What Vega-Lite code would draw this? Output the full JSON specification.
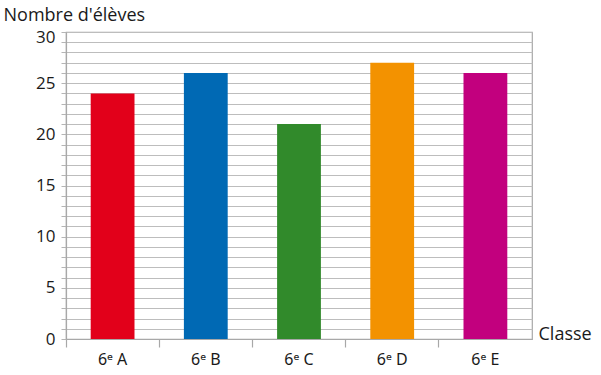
{
  "$schema": "https://vega.github.io/schema/vega-lite/v6.json",
  "autosize": "none",
  "width": 466,
  "height": 307,
  "padding": {"left": 66, "top": 32, "right": 69, "bottom": 36},
  "background": "white",
  "config": {
    "view": {"stroke": "#a8a8a8", "strokeWidth": 1.2},
    "font": "Open Sans"
  },
  "data": {
    "values": [
      {"classe": "6ᵉ A", "eleves": 24},
      {"classe": "6ᵉ B", "eleves": 26},
      {"classe": "6ᵉ C", "eleves": 21},
      {"classe": "6ᵉ D", "eleves": 27},
      {"classe": "6ᵉ E", "eleves": 26}
    ]
  },
  "mark": {"type": "bar", "width": {"band": 0.47}},
  "encoding": {
    "x": {
      "field": "classe",
      "type": "nominal",
      "sort": null,
      "scale": {"paddingInner": 0, "paddingOuter": 0},
      "axis": {
        "title": "Classe",
        "titleX": 472,
        "titleY": 0,
        "titleAlign": "left",
        "titleBaseline": "alphabetic",
        "titleFontSize": 18,
        "titleFontWeight": "normal",
        "titleColor": "#1a1a1a",
        "labelAngle": 0,
        "labelFont": "Noto Sans",
        "labelFontSize": 16,
        "labelColor": "#1a1a1a",
        "labelPadding": 4,
        "tickSize": 8,
        "tickColor": "#a8a8a8",
        "tickWidth": 1.2,
        "bandPosition": 0,
        "tickExtra": false,
        "domainColor": "#a8a8a8",
        "domainWidth": 1.2,
        "grid": false
      }
    },
    "y": {
      "field": "eleves",
      "type": "quantitative",
      "scale": {"domain": [0, 30], "nice": false},
      "axis": {
        "title": "Nombre d'élèves",
        "titleAngle": 0,
        "titleX": -63,
        "titleY": -12,
        "titleAlign": "left",
        "titleBaseline": "alphabetic",
        "titleFontSize": 18,
        "titleFontWeight": "normal",
        "titleColor": "#1a1a1a",
        "values": [0,1,2,3,4,5,6,7,8,9,10,11,12,13,14,15,16,17,18,19,20,21,22,23,24,25,26,27,28,29,30],
        "labelExpr": "datum.value % 5 == 0 ? datum.label : ''",
        "labelFontSize": 17,
        "labelColor": "#1a1a1a",
        "labelPadding": 6,
        "labelOffset": {"condition": {"test": "datum.value == 30", "value": 5}, "value": 0},
        "tickSize": 5,
        "tickColor": "#b5b5b5",
        "grid": true,
        "gridColor": "#bdbdbd",
        "gridWidth": 1.2,
        "domainColor": "#a8a8a8",
        "domainWidth": 1.2
      }
    },
    "color": {
      "field": "classe",
      "type": "nominal",
      "sort": null,
      "scale": {"range": ["#e2001a", "#0069b4", "#318a2b", "#f39200", "#c2007e"]},
      "legend": null
    }
  }
}
